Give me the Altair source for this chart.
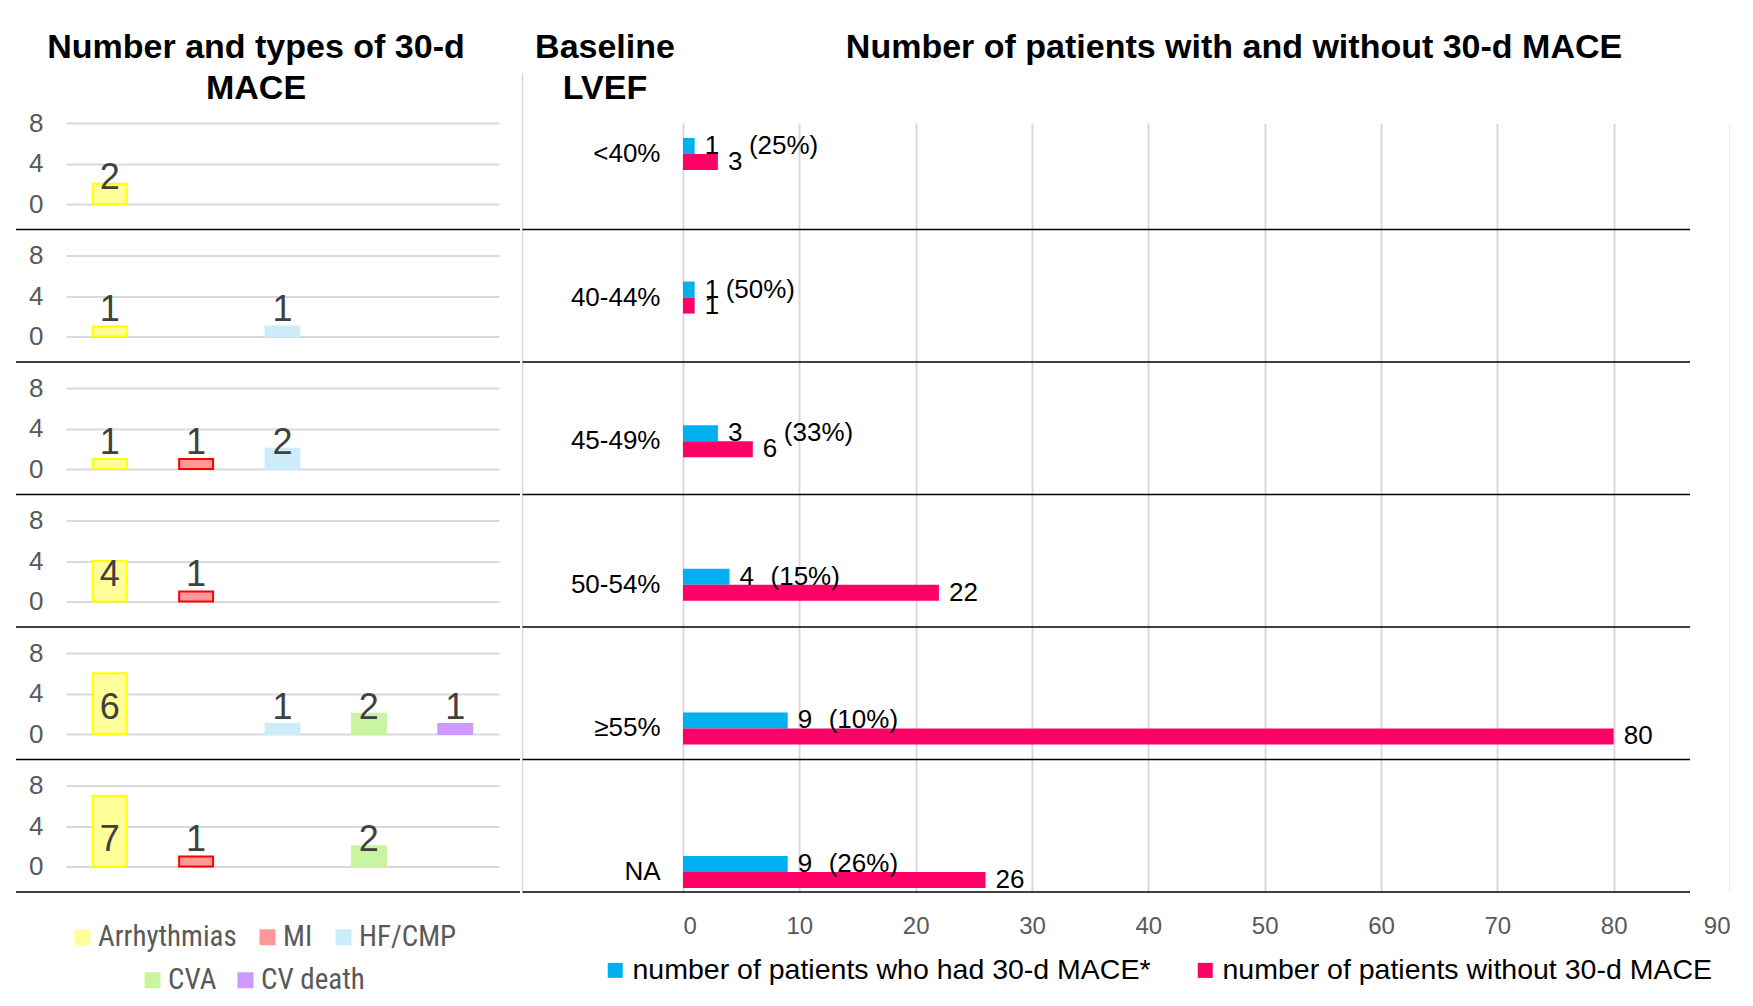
import altair as alt
import pandas as pd

FONT = "Liberation Sans"
NARROW = "Liberation Sans Narrow, Arial Narrow, Roboto Condensed, Liberation Sans"

# ---------------- data ----------------
lvef = ["<40%", "40-44%", "45-49%", "50-54%", "≥55%", "NA"]
with_mace = [1, 1, 3, 4, 9, 9]
without_mace = [3, 1, 6, 22, 80, 26]
pct_mace = [25, 50, 33, 15, 10, 26]
series_names = ["number of patients who had 30-d MACE*",
                "number of patients without 30-d MACE"]
series_colors = ["#00B0F0", "#FF0066"]

mace_types = ["Arrhythmias", "MI", "HF/CMP", "CVA", "CV death"]
arrhythmias = [2, 1, 1, 4, 6, 7]
mi = [0, 0, 1, 1, 0, 1]
hf_cmp = [0, 1, 2, 0, 1, 0]
cva = [0, 0, 0, 0, 2, 2]
cv_death = [0, 0, 0, 0, 1, 0]
type_fill = ["#FFFF99", "#FF9999", "#CCECFA", "#C9F5A0", "#CC99FF"]
type_stroke = ["#FFFF00", "#FF0000", "#CCECFA", "#C9F5A0", "#CC99FF"]

# ---------------- layout constants ----------------
PW, PH, GAP, SEP = 433, 81, 51.5, 106.5
RW = 1047
RH = 5 * (PH + GAP) + SEP  # right plot height, ends at bottom separator

one = pd.DataFrame({"k": [0]})


def left_panel(i):
    d = pd.DataFrame({"type": mace_types,
                      "n": [arrhythmias[i], mi[i], hf_cmp[i], cva[i], cv_death[i]]})
    d = d[d.n > 0]
    base = alt.Chart(d)
    xs = alt.X("type:N", sort=mace_types,
               scale=alt.Scale(domain=mace_types, paddingInner=0.607,
                               paddingOuter=0.31, align=0.5),
               axis=None)
    ys = alt.Y("n:Q", scale=alt.Scale(domain=[0, 8], nice=False),
               axis=alt.Axis(values=[0, 4, 8], title=None, grid=True,
                             gridColor="#D9D9D9", gridWidth=2, domain=False,
                             ticks=False, labelPadding=23, labelFontSize=26,
                             labelColor="#595959", labelFont=FONT))
    bars = base.mark_bar(strokeWidth=2).encode(
        x=xs, y=ys,
        color=alt.Color("type:N", scale=alt.Scale(domain=mace_types, range=type_fill),
                        legend=None),
        stroke=alt.Stroke("type:N", scale=alt.Scale(domain=mace_types, range=type_stroke),
                          legend=None),
    )
    labels = base.mark_text(fontSize=36, color="#404040", font=FONT,
                            baseline="middle", align="center").encode(
        x=xs, y=alt.YDatum(2.6), text="n:Q")
    sep = alt.Chart(one).mark_rule(color="black", strokeWidth=1.5).encode(
        x=alt.value(-50), x2=alt.value(454), y=alt.value(SEP))
    layers = [sep, bars, labels]
    if i == 0:
        head = alt.Chart(one).mark_text(
            font=FONT, fontSize=34, fontWeight="bold", align="center",
            baseline="alphabetic", lineHeight=41, color="black").encode(
            x=alt.value(190), y=alt.value(-65),
            text=alt.value(["Number and types of 30-d", "MACE"]))
        layers.append(head)
    if i == 5:
        def leg(types, fills, lx, ly, cp):
            return alt.Chart(pd.DataFrame({"lt": types})).transform_filter("false").mark_square().encode(
                color=alt.Color("lt:N", scale=alt.Scale(domain=types, range=fills),
                                legend=alt.Legend(orient="none", legendX=lx, legendY=ly,
                                                  direction="horizontal", title=None,
                                                  symbolType="square", symbolSize=256,
                                                  symbolStrokeWidth=0, symbolOpacity=1,
                                                  labelFontSize=29, labelFont=NARROW,
                                                  labelColor="#595959", columnPadding=cp,
                                                  labelOffset=1)))
        layers.append(leg(mace_types[:3], type_fill[:3], 2, 137, 16))
        layers.append(leg(mace_types[3:], type_fill[3:], 72, 180, 14))
    return alt.layer(*layers).resolve_scale(color="independent").properties(
        width=PW, height=PH)


left = alt.vconcat(*[left_panel(i) for i in range(6)], spacing=GAP,
                   bounds="flush").resolve_scale(color="independent",
                                                 stroke="independent")

# ---------------- right chart ----------------
long = pd.DataFrame({
    "lvef": lvef * 2,
    "series": [series_names[0]] * 6 + [series_names[1]] * 6,
    "value": with_mace + without_mace,
})
wide = pd.DataFrame({"lvef": lvef, "n_with": with_mace,
                     "n_without": without_mace, "pct": pct_mace})

yenc = alt.Y("lvef:N", sort=lvef,
             scale=alt.Scale(domain=lvef, paddingInner=0.777, paddingOuter=0.066,
                             align=0.79),
             axis=alt.Axis(title=None, domain=False, ticks=False, labelFontSize=26,
                           labelColor="black", labelFont=FONT, labelPadding=23,
                           grid=False))
xenc = alt.X("value:Q", scale=alt.Scale(domain=[0, 90], nice=False),
             axis=alt.Axis(values=list(range(0, 91, 10)), title=None, grid=True,
                           gridColor="#D9D9D9", gridWidth=2, domain=False,
                           ticks=False, tickSize=0, labelFontSize=24,
                           labelColor="#595959", labelPadding=22, labelFont=FONT))
yoff = alt.YOffset("series:N", sort=series_names,
                   scale=alt.Scale(domain=series_names, paddingInner=0, paddingOuter=0))

rbars = alt.Chart(long).mark_bar().encode(
    x=xenc, y=yenc, yOffset=yoff,
    color=alt.Color("series:N",
                    scale=alt.Scale(domain=series_names, range=series_colors),
                    legend=alt.Legend(orient="none", legendX=-82, legendY=833,
                                      direction="horizontal", title=None,
                                      symbolType="square", symbolSize=225,
                                      symbolStrokeWidth=0, labelFontSize=28.5,
                                      labelFont=FONT, labelColor="black",
                                      labelLimit=700, columnPadding=40,
                                      labelOffset=3)))
rvals = alt.Chart(long).mark_text(align="left", baseline="middle", dx=10,
                                  fontSize=26, font=FONT, color="black").encode(
    x="value:Q", y=alt.Y("lvef:N", sort=lvef),
    yOffset=alt.YOffset("series:N", sort=series_names), text="value:Q")

pct_common = dict(align="left", baseline="middle", fontSize=26, font=FONT, color="black")
pct_small = alt.Chart(wide).transform_filter("datum.n_without < 10").transform_calculate(
    series=f"'{series_names[0]}'", label="'(' + datum.pct + '%)'"
).mark_text(dx=31, **pct_common).encode(
    x="n_without:Q", y=alt.Y("lvef:N", sort=lvef),
    yOffset=alt.YOffset("series:N", sort=series_names), text="label:N")
pct_large = alt.Chart(wide).transform_filter("datum.n_without >= 10").transform_calculate(
    series=f"'{series_names[0]}'", label="'(' + datum.pct + '%)'"
).mark_text(dx=41, **pct_common).encode(
    x="n_with:Q", y=alt.Y("lvef:N", sort=lvef),
    yOffset=alt.YOffset("series:N", sort=series_names), text="label:N")

hdr_style = dict(font=FONT, fontSize=34, fontWeight="bold", align="center",
                 baseline="alphabetic", lineHeight=41, color="black")
hdr_mid = alt.Chart(one).mark_text(**hdr_style).encode(
    x=alt.value(-78), y=alt.value(-65), text=alt.value(["Baseline", "LVEF"]))
hdr_right = alt.Chart(one).mark_text(**hdr_style).encode(
    x=alt.value(551), y=alt.value(-65),
    text=alt.value("Number of patients with and without 30-d MACE"))

vsep = alt.Chart(one).mark_rule(color="#D9D9D9", strokeWidth=1.5).encode(
    x=alt.value(-160.5), y=alt.value(-50), y2=alt.value(RH))
hseps = [alt.Chart(one).mark_rule(color="black", strokeWidth=1.5).encode(
    x=alt.value(-160.5), x2=alt.value(1007), y=alt.value(SEP + k * (PH + GAP)))
    for k in range(6)]

right = alt.layer(vsep, *hseps, rbars, rvals, pct_small, pct_large,
                  hdr_mid, hdr_right).properties(width=RW, height=RH)

chart = alt.hconcat(left, right, spacing=0).resolve_scale(
    color="independent", stroke="independent"
).properties(
    padding={"left": 7, "top": 23, "right": 0, "bottom": 0},
    background="white",
).configure_view(stroke=None)

chart.save("out.html", embed_options={"renderer": "svg", "actions": False})
